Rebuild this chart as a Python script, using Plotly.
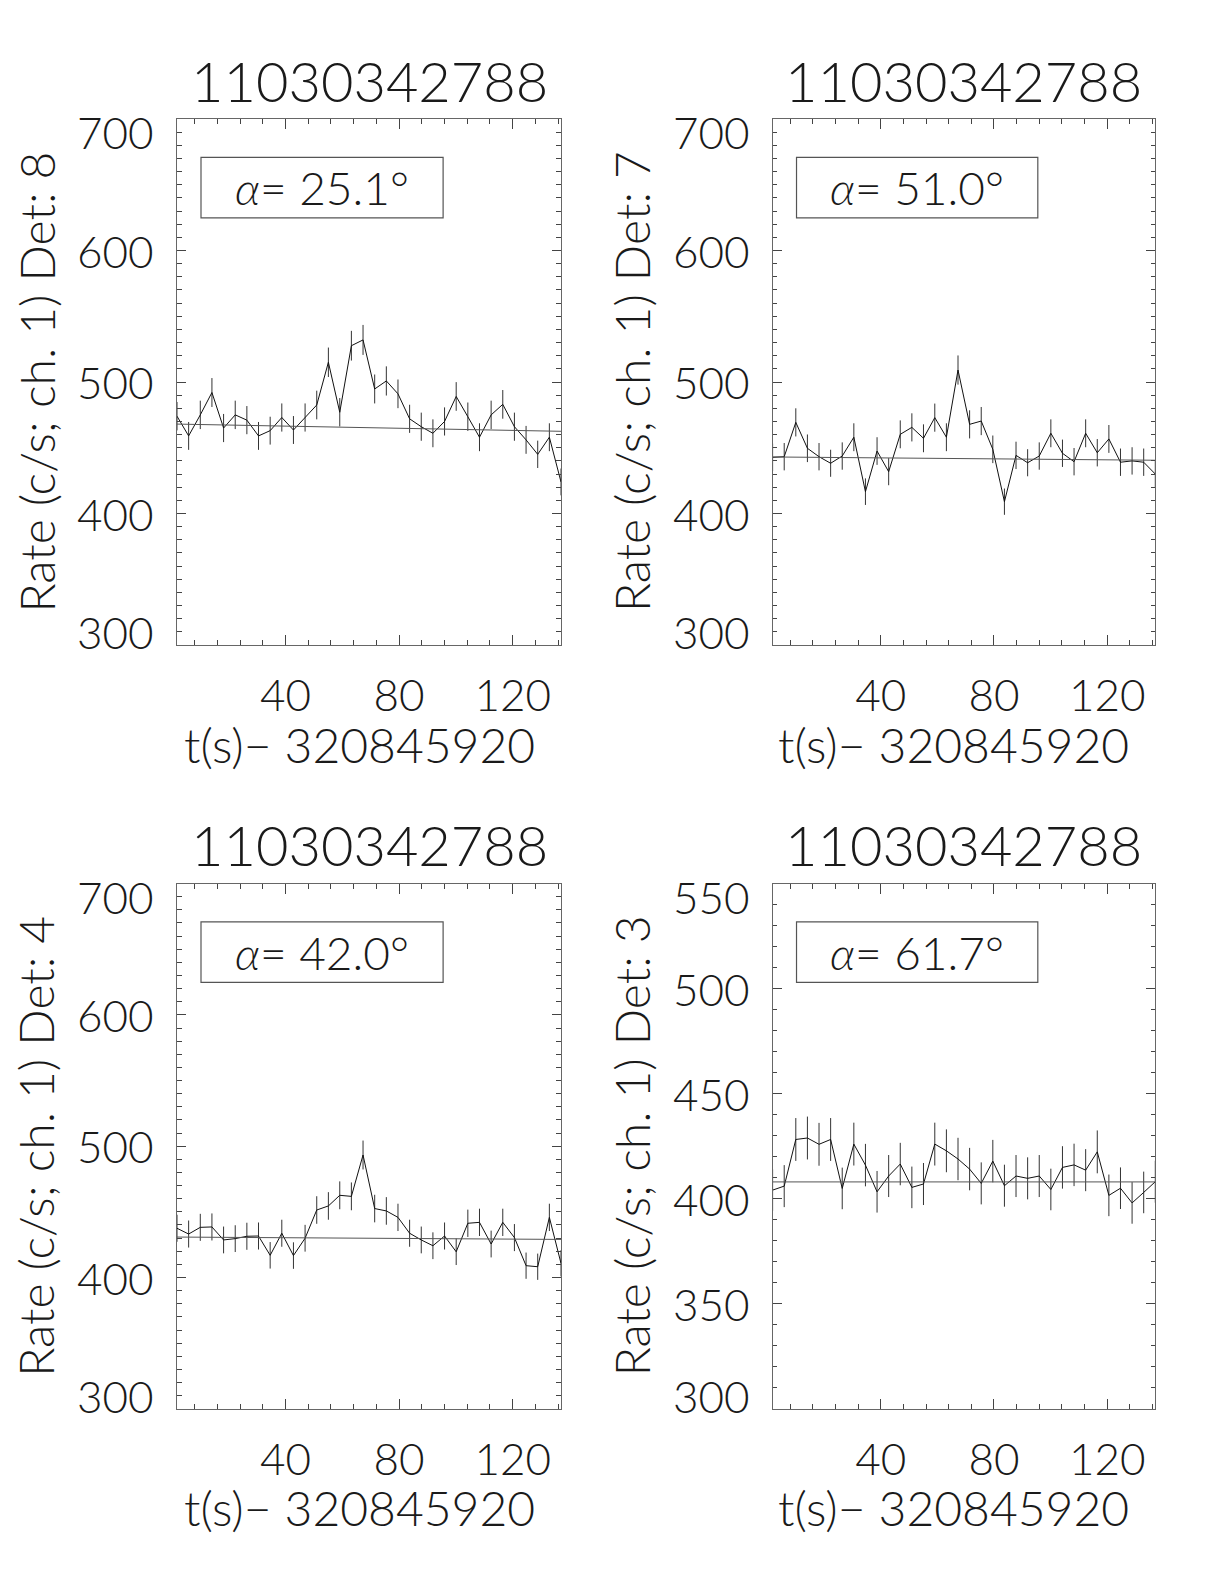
import plotly.graph_objects as go

# ---------------- data ----------------
t_s = [1.8, 5.9, 10.0, 14.1, 18.2, 22.3, 26.4, 30.5, 34.6, 38.7, 42.8, 46.9,
       51.0, 55.1, 59.1, 63.2, 67.3, 71.4, 75.5, 79.6, 83.7, 87.8, 91.9, 96.0,
       100.1, 104.2, 108.3, 112.4, 116.5, 120.6, 124.7, 128.8, 132.9, 137.0]

rate_det8 = [474, 459, 475, 492, 465, 475, 471, 459, 463, 473, 463.5, 473,
             482.5, 515, 477, 527.6, 532, 494.7, 500.8, 491, 472, 466, 461, 470,
             489, 473.6, 458, 475, 483, 466, 456, 445, 458, 424]
err_det8 = [10.8, 10.6, 10.8, 11.0, 10.7, 10.8, 10.7, 10.6, 10.6, 10.7, 10.6, 10.7,
            10.9, 11.2, 10.8, 11.3, 11.4, 11.0, 11.1, 10.9, 10.7, 10.7, 10.6, 10.7,
            10.9, 10.8, 10.6, 10.8, 10.9, 10.7, 10.6, 10.4, 10.6, 10.2]

rate_det7 = [442.7, 443.2, 469.3, 449.6, 443.2, 438.2, 443.7, 458, 416.6, 447.5, 431.8, 460.2,
             465.5, 457.2, 472.9, 458, 509.1, 467.8, 470.3, 448.8, 409, 444.2, 438.6, 443.7,
             461, 445.8, 439.4, 461, 446.2, 456.7, 439, 440, 439, 430]
err_det7 = [10.4, 10.4, 10.7, 10.5, 10.4, 10.3, 10.4, 10.6, 10.1, 10.5, 10.3, 10.6,
            10.7, 10.6, 10.7, 10.6, 11.1, 10.7, 10.7, 10.5, 10.0, 10.4, 10.3, 10.4,
            10.6, 10.4, 10.4, 10.6, 10.4, 10.6, 10.4, 10.4, 10.4, 10.2]

rate_det4 = [437.5, 433.1, 438.2, 438.5, 428.6, 429.6, 431.4, 431.6, 416.9, 433.7, 416.7, 429.9,
             451.4, 454.5, 462.6, 461.8, 493.3, 452.5, 450.7, 445.8, 433.7, 428.6, 424.2, 431.6,
             419.6, 441.3, 442, 425.5, 442, 430.4, 409, 408.2, 445.8, 410.8]
err_det4 = [10.3, 10.3, 10.3, 10.3, 10.2, 10.2, 10.3, 10.3, 10.1, 10.3, 10.1, 10.2,
            10.5, 10.5, 10.6, 10.6, 11.0, 10.5, 10.5, 10.4, 10.3, 10.2, 10.2, 10.3,
            10.1, 10.4, 10.4, 10.2, 10.4, 10.3, 10.0, 10.0, 10.4, 10.0]

rate_det3 = [404.1, 406, 428.2, 428.9, 425.9, 428.2, 404.9, 426, 416, 403.3, 410.8, 416.5,
             405.4, 407, 426, 422.8, 418.9, 414.1, 407.3, 417.9, 406.2, 410.8, 409.7, 410.8,
             404.4, 414.9, 416.1, 413.6, 422.3, 401.6, 405, 398, 403, 408.1]
err_det3 = [9.9, 10.0, 10.2, 10.2, 10.2, 10.2, 9.9, 10.2, 10.1, 9.9, 10.0, 10.1,
            9.9, 10.0, 10.2, 10.2, 10.1, 10.1, 10.0, 10.1, 10.0, 10.0, 10.0, 10.0,
            9.9, 10.1, 10.1, 10.0, 10.2, 9.9, 9.9, 9.9, 9.9, 10.0]

# background fit (start, middle, end)
bg_t = [1.8, 69.4, 137.0]
bg_det8 = [468, 465.5, 462.5]
bg_det7 = [443, 442, 440.5]
bg_det4 = [430.8, 430, 429]
bg_det3 = [408, 408, 408]

title_text = "11030342788"
xlabel_text = "t(s)\u2212 320845920"
x_ticks = [40, 80, 120]

panels = [
    dict(det="8", alpha="25.1", rate=rate_det8, err=err_det8, bg=bg_det8,
         yrange=[300, 700], yticks=[300, 400, 500, 600, 700]),
    dict(det="7", alpha="51.0", rate=rate_det7, err=err_det7, bg=bg_det7,
         yrange=[300, 700], yticks=[300, 400, 500, 600, 700]),
    dict(det="4", alpha="42.0", rate=rate_det4, err=err_det4, bg=bg_det4,
         yrange=[300, 700], yticks=[300, 400, 500, 600, 700]),
    dict(det="3", alpha="61.7", rate=rate_det3, err=err_det3, bg=bg_det3,
         yrange=[300, 550], yticks=[300, 350, 400, 450, 500, 550]),
]

# ---------------- layout geometry ----------------
OFF = 8  # page body margin
W, H = 1224 - 2 * OFF, 1584 - 2 * OFF
col_x = [(177 - OFF, 561 - OFF), (772.6 - OFF, 1155.3 - OFF)]
row_y = [(119 - OFF, 645 - OFF), (883.6 - OFF, 1408.8 - OFF)]

FONT = "Lato"
WEIGHT = 300
TXT = "#1a1a1a"
AXC = "#666"

fig = go.Figure()
layout = dict(width=W, height=H, margin=dict(l=0, r=0, t=0, b=0),
              paper_bgcolor="white", plot_bgcolor="white", showlegend=False)
annotations = []
shapes = []

for i, p in enumerate(panels):
    n = i + 1
    r, c = divmod(i, 2)
    x0, x1 = col_x[c]
    y0, y1 = row_y[r]
    pw, ph = x1 - x0, y1 - y0
    xs = "x" if n == 1 else f"x{n}"
    ys = "y" if n == 1 else f"y{n}"
    xa = "xaxis" if n == 1 else f"xaxis{n}"
    ya = "yaxis" if n == 1 else f"yaxis{n}"

    fig.add_trace(go.Scatter(x=t_s, y=p["rate"], mode="lines",
                             line=dict(color="#111", width=1),
                             error_y=dict(type="data", array=p["err"], visible=True,
                                          width=0, thickness=1, color="#333"),
                             xaxis=xs, yaxis=ys, hoverinfo="skip"))
    fig.add_trace(go.Scatter(x=bg_t, y=p["bg"], mode="lines",
                             line=dict(color="#555", width=1),
                             xaxis=xs, yaxis=ys, hoverinfo="skip"))

    layout[xa] = dict(domain=[x0 / W, x1 / W], anchor=ys, range=[t_s[0], t_s[-1]],
                      showgrid=False, zeroline=False, showline=True, linecolor=AXC,
                      linewidth=1.2, mirror="ticks", ticks="inside", ticklen=10,
                      tickwidth=1, tickcolor="#444", tickvals=x_ticks,
                      ticktext=[str(v) for v in x_ticks],
                      tickfont=dict(family=FONT, size=44, color=TXT, weight=WEIGHT),
                      ticklabelstandoff=12,
                      minor=dict(ticks="inside", dtick=8, tick0=0, ticklen=5,
                                 tickwidth=1, tickcolor="#444", showgrid=False))
    lo, hi = p["yrange"]
    layout[ya] = dict(domain=[1 - y1 / H, 1 - y0 / H], anchor=xs, range=[lo, hi],
                      showgrid=False, zeroline=False, showline=True, linecolor=AXC,
                      linewidth=1.2, mirror="ticks", ticks="inside", ticklen=9,
                      tickwidth=1, tickcolor="#444", tickvals=p["yticks"],
                      showticklabels=False,
                      minor=dict(ticks="inside", dtick=10, tick0=0, ticklen=4.5,
                                 tickwidth=1, tickcolor="#444", showgrid=False))

    xd = f"{xs} domain"
    yd = f"{ys} domain"
    # y tick labels (end labels pulled inward, as in the original)
    for k, v in enumerate(p["yticks"]):
        shift = 0
        if k == 0:
            shift = 13
        elif k == len(p["yticks"]) - 1:
            shift = -13
        annotations.append(dict(x=-21 / pw, y=v, xref=xd, yref=ys, text=str(v),
                                showarrow=False, xanchor="right", yanchor="middle",
                                yshift=shift,
                                font=dict(family=FONT, size=44, color=TXT, weight=WEIGHT)))
    # title
    annotations.append(dict(x=0.5, y=1 + 39 / ph, xref=xd, yref=yd, text=title_text,
                            showarrow=False, xanchor="center", yanchor="middle",
                            font=dict(family=FONT, size=56, color=TXT, weight=WEIGHT)))
    # y axis title
    annotations.append(dict(x=-141.5 / pw, y=0.5, xref=xd, yref=yd,
                            text=f"Rate (c/s; ch. 1) Det: {p['det']}", textangle=-90,
                            showarrow=False, xanchor="center", yanchor="middle",
                            font=dict(family=FONT, size=48, color=TXT, weight=WEIGHT)))
    # x axis title
    annotations.append(dict(x=(359 - 177) / 384, y=-(99) / ph, xref=xd, yref=yd,
                            text=xlabel_text, showarrow=False,
                            xanchor="center", yanchor="middle",
                            font=dict(family=FONT, size=48, color=TXT, weight=WEIGHT)))
    # alpha box
    shapes.append(dict(type="rect", xref=xd, yref=yd, x0=0.0625, x1=0.693,
                       y0=1 - 0.188, y1=1 - 0.073,
                       line=dict(color="#555", width=1.2), fillcolor="rgba(0,0,0,0)"))
    annotations.append(dict(x=(0.0625 + 0.693) / 2, y=1 - (0.188 + 0.073) / 2,
                            xref=xd, yref=yd,
                            text=f"<i>\u03b1</i>= {p['alpha']}\u00b0", showarrow=False,
                            xanchor="center", yanchor="middle",
                            font=dict(family=FONT, size=46, color=TXT, weight=WEIGHT)))

layout["annotations"] = annotations
layout["shapes"] = shapes
fig.update_layout(**layout)
fig.write_html("out.html")
